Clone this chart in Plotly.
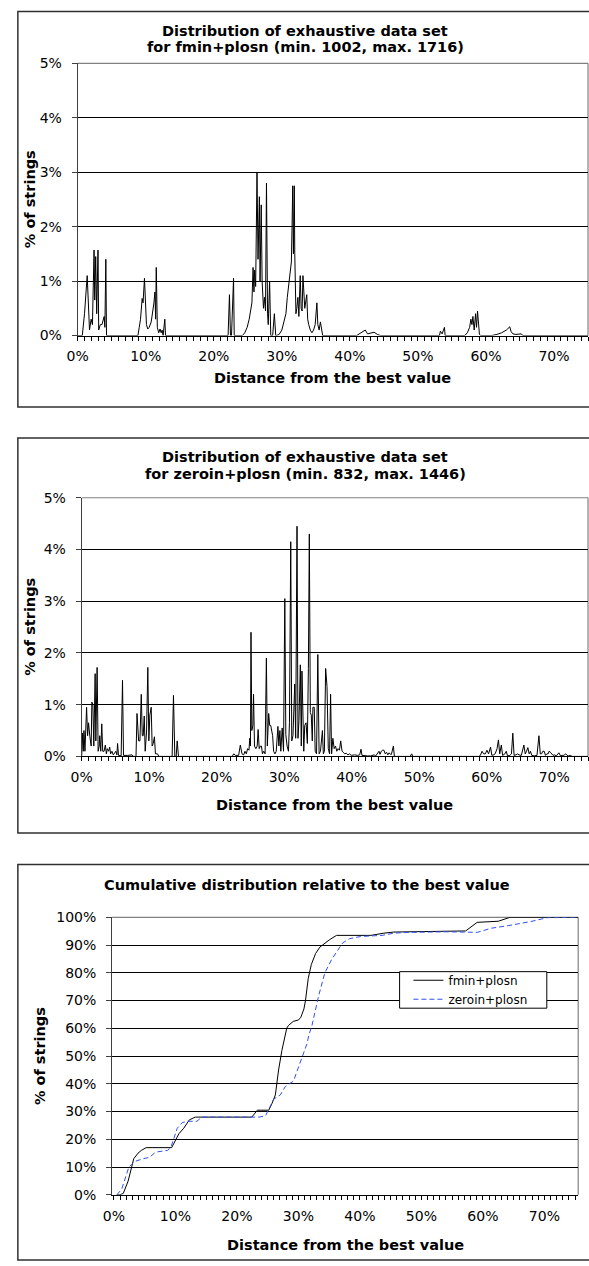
import plotly.graph_objects as go

# ---------------- DATA ----------------
# Panel 1: fmin+plosn distribution (x: % distance from best, y: % of strings)
fmin_x = [0.0, 0.67, 1.0, 1.2, 1.39, 1.73, 1.97, 2.16, 2.40, 2.5, 2.64, 2.79, 2.98, 3.08, 3.32, 3.56, 3.80, 3.89, 3.99, 4.13, 4.23,
          8.85, 9.04, 9.23, 9.47, 9.6, 9.81, 9.95, 10.1, 10.3, 10.5, 10.8, 11.0, 11.2, 11.35, 11.45, 11.54, 11.7, 11.9, 12.1, 12.26, 12.4, 12.55, 12.8, 12.9,
          22.1, 22.3, 22.45, 22.6, 22.9, 23.0,
          24.2, 24.55, 24.9, 25.2, 25.4, 25.6, 25.77, 25.9, 26.0, 26.15, 26.35, 26.5, 26.7, 26.8, 26.97, 27.1, 27.3, 27.45, 27.6, 27.74, 27.9, 28.0, 28.2, 28.37, 28.65, 28.9, 29.1,
          29.2, 29.6, 30.0, 30.3, 30.6, 30.8, 31.06, 31.25, 31.4, 31.5, 31.6, 31.7, 31.83, 31.9, 32.07, 32.2, 32.36, 32.5, 32.7, 32.84, 32.98, 33.1,
          33.37, 33.66, 33.8, 33.95, 34.18, 34.42, 34.66, 34.9, 35.15, 35.29, 35.48, 35.67, 35.87, 36.0,
          41.0, 41.4, 42.26, 42.6, 43.08, 43.56, 44.04, 44.5,
          53.17, 53.3, 53.56, 53.75, 53.9, 54.0,
          56.88, 57.26, 57.6, 57.79, 57.94, 58.08, 58.27, 58.47, 58.61, 58.76, 58.9, 59.04, 59.24,
          60.87, 61.6, 62.3, 63.0, 63.5, 63.7, 63.96, 64.4, 65.2, 65.4, 75.0]
fmin_y = [0, 0, 0.4, 0.8, 1.1, 0.1, 0.3, 0.2, 1.57, 0.65, 1.45, 0.4, 1.57, 0.1, 0.2, 0.2, 0.3, 0.35, 0.15, 1.4, 0,
          0, 0.15, 0.3, 0.68, 0.6, 1.05, 0.4, 0.2, 0.12, 0.15, 0.25, 0.4, 0.6, 0.8, 0.3, 1.25, 0.15, 0.05, 0.12, 0.05, 0.1, 0, 0.3, 0,
          0, 0.75, 0, 0, 1.05, 0,
          0, 0.05, 0.15, 0.3, 0.5, 0.6, 1.25, 0.8, 1.2, 0.9, 3.0, 1.4, 2.55, 1.0, 2.4, 1.0, 0.5, 0.7, 0.45, 2.8, 0.4, 0.2, 1.0, 0, 0, 0.4, 0,
          0, 0.02, 0.1, 0.25, 0.4, 0.7, 1.0, 1.1, 1.35, 2.0, 2.75, 1.5, 2.75, 1.5, 0.4, 0.5, 0.7, 0.35, 1.1, 0.5, 0.45, 1.1,
          0.5, 0.75, 0.3, 0.2, 0.1, 0.05, 0.1, 0.2, 0.6, 0.2, 0.1, 0.25, 0.05, 0,
          0, 0.03, 0.1, 0.03, 0.05, 0.06, 0.02, 0,
          0.0, 0.08, 0.03, 0.1, 0.15, 0,
          0, 0.05, 0.15, 0.3, 0.2, 0.35, 0.1, 0.4, 0.15, 0.45, 0.15, 0.02, 0,
          0, 0.02, 0.05, 0.1, 0.16, 0.07, 0.03, 0.02, 0.03, 0, 0]

# Panel 2: zeroin+plosn distribution
zer_x = [0.0, 0.15, 0.24, 0.34, 0.49, 0.73, 0.88, 1.02, 1.22, 1.41, 1.51, 1.66, 1.8, 2.0, 2.1, 2.29, 2.44, 2.6, 2.68, 2.83, 2.98, 3.12,
         3.32, 3.51, 3.66, 3.8, 4.0, 4.15, 4.29, 4.49, 4.68, 4.88, 5.07, 5.22, 5.32, 5.46, 5.85, 6.05, 6.2, 6.83, 7.46, 7.66,
         8.05, 8.2, 8.34, 8.44, 8.63, 8.83, 8.98, 9.12, 9.27, 9.41, 9.61, 9.8, 9.95, 10.1, 10.3, 10.44, 10.6, 10.78, 10.93, 11.22, 11.46,
         13.4, 13.6, 13.8, 14.0, 14.15, 14.34,
         22.3, 22.53, 22.78, 23.25, 23.5, 23.75, 24.0, 24.19, 24.39, 24.58, 24.78, 24.9, 25.0, 25.08, 25.2, 25.36, 25.46, 25.6, 25.8, 26.0,
         26.14, 26.3, 26.48, 26.63, 26.78, 26.97, 27.17, 27.36, 27.5, 27.7, 27.85, 28.0, 28.14, 28.29, 28.43, 28.63, 28.82, 29.07, 29.21,
         29.36, 29.5, 29.7, 29.9, 30.09, 30.24, 30.43, 30.63, 30.78, 30.97, 31.12, 31.3, 31.56, 31.7, 31.9, 32.04, 32.19, 32.39, 32.53,
         32.63, 32.78, 32.9, 33.04, 33.24, 33.43, 33.58, 33.72, 33.87, 34.01, 34.16, 34.25, 34.45, 34.59, 34.79, 34.98, 35.17, 35.37,
         35.47, 35.66, 35.8, 35.95, 36.14, 36.34, 36.53, 36.72, 36.87, 37.02, 37.21, 37.4, 37.6, 37.79, 37.98, 38.18, 38.37, 38.57,
         38.76, 38.95, 39.2, 39.44, 39.68, 39.92, 40.41, 40.89, 41.18, 41.38, 41.52, 41.86, 42.34, 42.83, 43.31, 43.56, 43.8, 44.04,
         44.19, 44.38, 44.57, 44.77, 44.96, 45.16, 45.35, 45.54, 45.74, 45.88, 46.17, 46.32, 48.64, 48.89, 49.03,
         58.82, 59.06, 59.3, 59.54, 59.79, 60.03, 60.27, 60.56, 60.76, 61.0, 61.24, 61.53, 61.73, 61.92, 62.16, 62.35, 62.69, 62.89,
         63.08, 63.42, 63.66, 63.86, 64.05, 64.34, 64.53, 64.78, 65.12, 65.5, 65.7, 65.89, 66.09, 66.28, 66.47, 66.67, 67.05, 67.44,
         67.73, 67.93, 68.12, 68.31, 68.51, 68.7, 68.9, 69.09, 69.23, 69.43, 69.62, 69.82, 70.06, 70.3, 70.69, 70.93, 71.17, 71.41,
         71.7, 71.9, 72.14, 72.38, 72.63, 75.0]
zer_y = [0, 0.45, 0.1, 0.5, 0.1, 0.95, 0.4, 0.65, 0.38, 0.2, 1.05, 1.0, 0.2, 1.6, 0.3, 1.72, 0.1, 0.2, 0.4, 0.1, 0.63, 0.1,
         0.1, 0.22, 0.05, 0.15, 0.1, 0.18, 0.05, 0.1, 0.03, 0.08, 0.1, 0.03, 0.25, 0.02, 0.01, 1.47, 0.02, 0.02, 0.03, 0,
         0, 0.83, 0.6, 0.3, 0.3, 1.2, 0.4, 0.4, 0.78, 0.1, 0.47, 1.72, 0.3, 0.8, 0.95, 0.2, 0.25, 0.38, 0.05, 0.05, 0,
         0, 1.18, 0, 0, 0.3, 0,
         0, 0.05, 0.02, 0.02, 0.22, 0.05, 0.03, 0.1, 0.05, 0.15, 0.12, 0.35, 0.2, 2.4, 0.5, 0.6, 1.2, 0.2, 0.15, 0.2,
         0.52, 0.15, 0.2, 0.2, 0.05, 0.1, 0.05, 1.9, 0.2, 0.83, 0.6, 0.6, 0.45, 0.4, 0.1, 0.05, 0.1, 0.58, 0.2,
         0.5, 0.1, 0.55, 0.1, 3.05, 0.42, 0.2, 0.1, 0.65, 4.15, 0.3, 0.4, 1.4, 0.35, 4.45, 0.35, 0.7, 1.77, 0.2,
         1.65, 0.2, 0.1, 0.6, 0.65, 0.25, 1.7, 4.3, 0.85, 0.8, 0.3, 0.95, 0.95, 0.1, 0.05, 1.97, 0.05, 0.1,
         0.3, 0.5, 0.05, 0.1, 1.7, 1.35, 0.15, 0.05, 1.2, 0.05, 0.35, 0.15, 0.2, 0.1, 0.15, 0.12, 0.3, 0.1,
         0.08, 0.05, 0.06, 0.03, 0.05, 0.02, 0.03, 0.02, 0.03, 0.14, 0.02, 0.01, 0.01, 0.01, 0.03, 0.01, 0.05, 0.1,
         0.04, 0.1, 0.12, 0.12, 0.05, 0.08, 0.03, 0.07, 0.04, 0.04, 0.2, 0, 0, 0.05, 0,
         0, 0.02, 0.1, 0.05, 0.05, 0.12, 0.05, 0.18, 0.02, 0.03, 0.05, 0.15, 0.32, 0.05, 0.22, 0.02, 0.05, 0.1,
         0.01, 0.02, 0.05, 0.45, 0.02, 0.03, 0.05, 0.03, 0.02, 0.22, 0.05, 0.1, 0.17, 0.05, 0.1, 0.02, 0.01, 0.02,
         0.4, 0.05, 0.05, 0.1, 0.1, 0.02, 0.05, 0.05, 0.1, 0.08, 0.05, 0.02, 0.03, 0.01, 0.07, 0.01, 0.02, 0.02,
         0.05, 0.02, 0.01, 0.02, 0, 0]

# Panel 3: cumulative distributions
cum_fmin_x = [0.5, 1.0, 1.52, 2.32, 3.22, 3.92, 4.45, 5.24, 9.39, 10.03, 10.56, 11.36, 12.26, 13.22, 22.42, 23.32, 25.18, 25.72,
              26.25, 26.78, 27.31, 28.1, 28.37, 29.16, 30.0, 30.4, 30.9, 31.15, 31.6, 32.1, 32.8, 33.5, 34.3, 35.1, 36.2, 41.78,
              43.9, 45.5, 57.2, 59.07, 62.5, 64.4, 75.5]
cum_fmin_y = [0, 0, 0.5, 5, 13, 15, 16, 17, 17, 20, 22, 24, 27, 28, 28, 30.5, 30.5, 33, 36, 45, 52, 60, 61, 62.5, 63, 64, 67, 70, 78,
              83, 87, 89.3, 90.8, 92, 93.5, 93.5, 94.3, 94.7, 95.1, 98.2, 98.6, 100, 100]
cum_zer_x = [0.46, 1.26, 2.43, 3.38, 4.72, 5.78, 6.58, 7.11, 8.71, 9.24, 10.3, 11.1, 11.9, 13.5, 14.3, 23.6, 24.66, 25.2, 26.0,
             27.06, 27.86, 29.2, 29.6, 30.0, 30.6, 31.0, 31.4, 31.7, 32.2, 33.3, 34.3, 35.4, 36.5, 37.2, 38.3, 40.1, 43.6, 45.5,
             48.1, 54.0, 59.1, 61.4, 64.1, 67.8, 70.5, 75.5]
cum_zer_y = [0, 2, 10, 12, 13, 13.5, 15, 15.5, 16, 17, 24, 26, 26.5, 26.5, 28, 28, 28.5, 31, 34.5, 36, 39, 41, 43.4, 45.5, 49,
             51.5, 54.5, 57.6, 61, 71.8, 80, 84.8, 88.4, 90.8, 92.3, 93.1, 93.5, 94.3, 94.6, 94.8, 94.6, 96.1, 97, 98.5, 99.9, 100]

titles1 = ["Distribution of exhaustive data set", "for fmin+plosn (min. 1002, max. 1716)"]
titles2 = ["Distribution of exhaustive data set", "for zeroin+plosn (min. 832, max. 1446)"]
title3 = "Cumulative distribution relative to the best value"
xtitle = "Distance from the best value"
ytitle = "% of strings"
series_names = ["fmin+plosn", "zeroin+plosn"]
x_tick_vals = list(range(0, 76))
x_tick_text = [f"{v}%" if v % 10 == 0 else "" for v in x_tick_vals]

# ---------------- LAYOUT HELPERS ----------------
W, H = 589, 1266
def px(x):
    return x / W
def py(y):
    return 1 - y / H

FONT = "DejaVu Sans"
TICKF = dict(family=FONT, size=14, color="black")
BOLD = dict(family=FONT, size=14.5, color="black", weight="bold")

fig = go.Figure()
fig.add_trace(go.Scatter(x=fmin_x, y=fmin_y, mode="lines", line=dict(color="black", width=1),
                         xaxis="x", yaxis="y", showlegend=False))
fig.add_trace(go.Scatter(x=zer_x, y=zer_y, mode="lines", line=dict(color="black", width=1),
                         xaxis="x2", yaxis="y2", showlegend=False))
fig.add_trace(go.Scatter(x=cum_fmin_x, y=cum_fmin_y, mode="lines", name=series_names[0],
                         line=dict(color="black", width=1), xaxis="x3", yaxis="y3"))
fig.add_trace(go.Scatter(x=cum_zer_x, y=cum_zer_y, mode="lines", name=series_names[1],
                         line=dict(color="#3050F0", width=1, dash="5px,3px"), xaxis="x3", yaxis="y3"))

panels = [
    # (xdomain px, ydomain px (top,bottom), xrange, yrange, ydtick)
    ((68, 588), (56, 331.7), [0, 75], [0, 5], 1),
    ((72, 588), (496, 758), [0, 75], [0, 5], 1),
    ((103, 578), (921, 1202), [-0.3, 75.5], [0, 100], 10),
]
for i, (xd, yd, xr, yr, ydt) in enumerate(panels):
    sfx = "" if i == 0 else str(i + 1)
    fig.update_layout(**{
        "xaxis" + sfx: dict(domain=[px(xd[0]), px(xd[1])], range=xr, anchor="y" + sfx,
                            tickmode="array", tickvals=x_tick_vals, ticktext=x_tick_text,
                            ticks="outside", ticklen=4, tickcolor="black", tickwidth=1,
                            showgrid=False, zeroline=False, showline=True,
                            linecolor="black", linewidth=1, tickfont=TICKF,
                            ticklabelstandoff=4, fixedrange=True),
        "yaxis" + sfx: dict(domain=[py(yd[1]), py(yd[0])], range=yr, anchor="x" + sfx,
                            dtick=ydt, tick0=0, ticks="outside", ticklen=5, tickcolor="#404040",
                            ticksuffix="%", showgrid=True, gridcolor="black", gridwidth=1,
                            zeroline=False, showline=True, linecolor="#404040", linewidth=1,
                            tickfont=TICKF, ticklabelstandoff=7, fixedrange=True),
    })

shapes = []
# plot-area gray border (top and right), between gridlines and traces
for (xd, yd, xr, yr, ydt) in panels:
    shapes.append(dict(type="line", xref="paper", yref="paper", x0=px(xd[0]), x1=px(xd[1]),
                       y0=py(yd[0]), y1=py(yd[0]), line=dict(color="#808080", width=1.2), layer="between"))
    shapes.append(dict(type="line", xref="paper", yref="paper", x0=px(xd[1]), x1=px(xd[1]),
                       y0=py(yd[0]), y1=py(yd[1]), line=dict(color="#808080", width=1.2), layer="between"))
# chart-area outer borders
for (top, bot) in [(3.5, 404), (435.5, 835.5), (867.5, 1268)]:
    shapes.append(dict(type="rect", xref="paper", yref="paper", x0=px(7), x1=px(600),
                       y0=py(bot), y1=py(top), line=dict(color="#303030", width=1.5)))
# legend box
shapes.append(dict(type="rect", xref="paper", yref="paper", x0=px(396), x1=px(546),
                   y0=py(1013), y1=py(976), line=dict(color="black", width=1),
                   fillcolor="white", layer="above"))

ann = []
def txt(text, x, y, font, angle=0):
    ann.append(dict(text=text, x=px(x), y=py(y), xref="paper", yref="paper", showarrow=False,
                    xanchor="center", yanchor="middle", font=font, textangle=angle))

txt(titles1[0], 300, 23, BOLD)
txt(titles1[1], 300, 40, BOLD)
txt(titles2[0], 300, 455, BOLD)
txt(titles2[1], 300, 472, BOLD)
txt(title3, 302, 888, BOLD)
txt(xtitle, 328, 375, BOLD)
txt(xtitle, 330, 807, BOLD)
txt(xtitle, 341, 1253, BOLD)
txt(ytitle, 19, 194, BOLD, -90)
txt(ytitle, 19, 627, BOLD, -90)
txt(ytitle, 29, 1061, BOLD, -90)

fig.update_layout(
    width=W, height=H, margin=dict(l=0, r=0, t=0, b=0),
    paper_bgcolor="white", plot_bgcolor="white",
    shapes=shapes, annotations=ann,
    showlegend=True,
    legend=dict(x=px(405), y=py(970), xanchor="left", yanchor="top",
                borderwidth=0, bgcolor="rgba(0,0,0,0)",
                font=dict(family=FONT, size=12, color="black"), itemwidth=30,
                tracegroupgap=0),
)

fig.write_html("out.html",
               post_script="document.body.style.margin='0px';document.body.style.padding='0px';"
                           "document.documentElement.style.overflow='hidden';")
